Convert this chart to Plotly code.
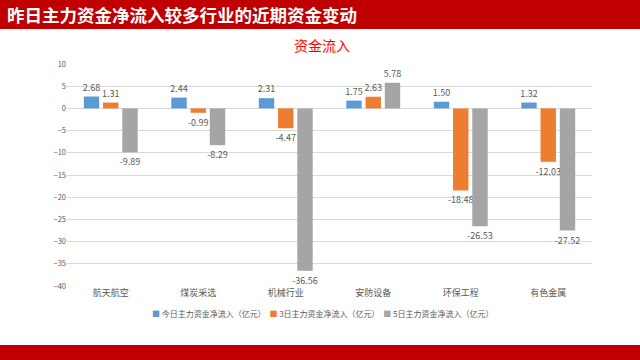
import plotly.graph_objects as go

categories = ["航天航空", "煤炭采选", "机械行业", "安防设备", "环保工程", "有色金属"]
today = [2.68, 2.44, 2.31, 1.75, 1.50, 1.32]
day3 = [1.31, -0.99, -4.47, 2.63, -18.48, -12.03]
day5 = [-9.89, -8.29, -36.56, 5.78, -26.53, -27.52]
series_names = ["今日主力资金净流入（亿元）", "3日主力资金净流入（亿元）", "5日主力资金净流入（亿元）"]
colors = ["#5B9BD5", "#ED7D31", "#A5A5A5"]
tick_vals = [10, 5, 0, -5, -10, -15, -20, -25, -30, -35, -40]

W, H = 640, 360
L, R, T, B = 67, 48, 64, 74
ph = H - T - B
FONT = "Noto Sans CJK SC, Microsoft YaHei, sans-serif"

def py(pix):
    return 1 - (pix - T) / ph

def px(pix):
    return (pix - L) / (W - L - R)

fig = go.Figure()
for name, vals, c in zip(series_names, [today, day3, day5], colors):
    fig.add_trace(go.Bar(
        x=categories, y=vals, name=name, marker=dict(color=c, line=dict(width=0)),
        text=[f"{v:.2f}" for v in vals], textposition="outside", constraintext="none",
        textfont=dict(size=9, color="#595959", family=FONT),
        cliponaxis=False, showlegend=False, hoverinfo="skip",
    ))

fig.update_layout(
    width=W, height=H,
    margin=dict(l=L, r=R, t=T, b=B, autoexpand=False),
    paper_bgcolor="white", plot_bgcolor="white",
    barmode="group", bargap=0.34, bargroupgap=0.2,
    font=dict(family=FONT, color="#595959"),
    showlegend=False,
    xaxis=dict(showgrid=False, showline=False, ticks="", tickfont=dict(size=9, color="#595959"),
               fixedrange=True, automargin=False),
    yaxis=dict(range=[-40, 10], tickvals=tick_vals, showgrid=True, gridcolor="#D9D9D9",
               gridwidth=1, zeroline=True, zerolinecolor="#D9D9D9", zerolinewidth=1,
               showline=False, ticks="", tickfont=dict(size=7.5, color="#595959"),
               fixedrange=True, automargin=False),
)

shapes = [
    dict(type="rect", xref="paper", yref="paper", x0=px(0), x1=px(W), y0=py(29), y1=py(0),
         fillcolor="#C00000", line=dict(width=0), layer="above"),
    dict(type="rect", xref="paper", yref="paper", x0=px(0), x1=px(W), y0=py(H), y1=py(345),
         fillcolor="#C00000", line=dict(width=0), layer="above"),
]
fig.update_layout(shapes=shapes)

fig.add_annotation(text="<b>昨日主力资金净流入较多行业的近期资金变动</b>", xref="paper", yref="paper",
                   x=px(5), y=py(14.5), xanchor="left", yanchor="middle", showarrow=False,
                   font=dict(size=17.5, color="white", family=FONT))
fig.add_annotation(text="资金流入", xref="paper", yref="paper",
                   x=px(322), y=py(45), xanchor="center", yanchor="middle", showarrow=False,
                   font=dict(size=14, color="#FF0000", family=FONT))

legend_text = "  ".join(
    f"<span style='color:{c}'>■</span> {n}" for n, c in zip(series_names, colors)
)
fig.add_annotation(text=legend_text, xref="paper", yref="paper",
                   x=px(322), y=py(313), xanchor="center", yanchor="middle", showarrow=False,
                   font=dict(size=8, color="#595959", family=FONT))

fig.write_html("out.html", config={"displayModeBar": False, "staticPlot": True},
               post_script="document.body.style.margin='0';document.body.style.overflow='hidden';")
